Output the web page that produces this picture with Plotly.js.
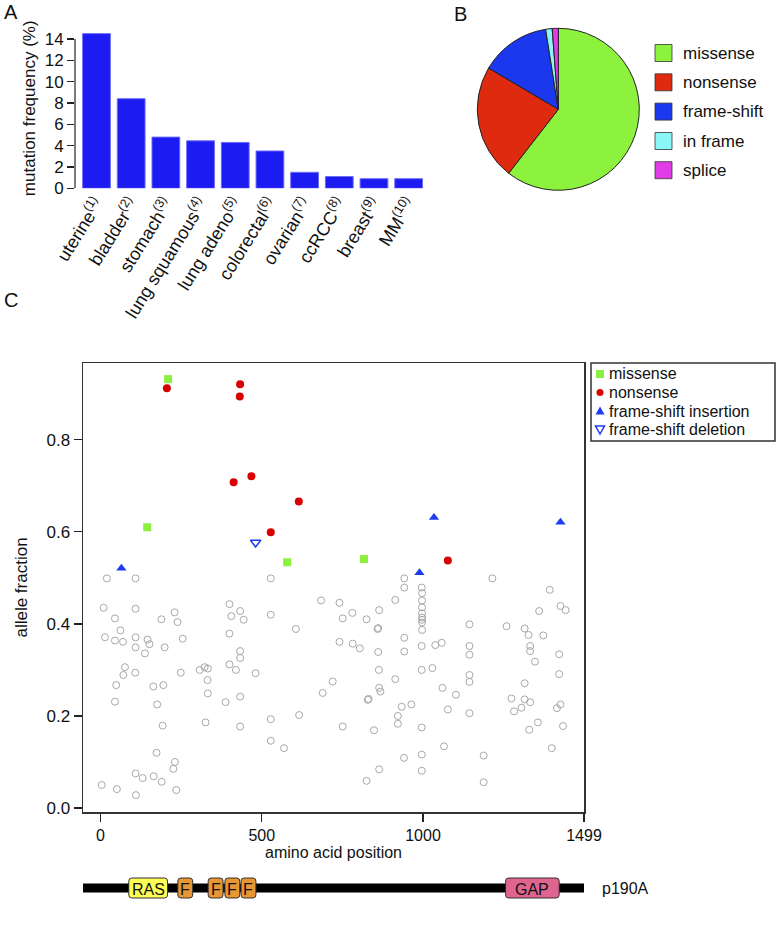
<!DOCTYPE html>
<html>
<head>
<meta charset="utf-8">
<script src="https://cdn.plot.ly/plotly-3.0.1.min.js"></script>
<style>html,body{margin:0;padding:0;background:#fff;}#chart{width:777px;height:928px;}</style>
</head>
<body>
<div id="chart"></div>
<script>
// ---------- Panel A data ----------
const cancerTypes = ['uterine','bladder','stomach','lung squamous','lung adeno','colorectal','ovarian','ccRCC','breast','MM'];
const cancerRanks = ['(1)','(2)','(3)','(4)','(5)','(6)','(7)','(8)','(9)','(10)'];
const mutFreq = [14.5, 8.4, 4.8, 4.45, 4.3, 3.5, 1.5, 1.1, 0.9, 0.9];
const freqTicks = [0, 2, 4, 6, 8, 10, 12, 14];

// ---------- Panel B data ----------
const mutClasses = ['missense','nonsense','frame-shift','in frame','splice'];
const mutClassShare = [60.5, 23.0, 14.0, 1.3, 1.2];

// ---------- Panel C data ----------
const missenseAA = [210, 145, 579, 817];
const missenseAF = [0.932, 0.610, 0.534, 0.541];
const nonsenseAA = [206, 433, 432, 413, 468, 615, 528, 1077];
const nonsenseAF = [0.912, 0.921, 0.894, 0.708, 0.721, 0.666, 0.599, 0.538];
const fsInsAA = [65, 989, 1034, 1426];
const fsInsAF = [0.521, 0.511, 0.631, 0.621];
const fsDelAA = [481];
const fsDelAF = [0.577];
const otherAA = [20,109,10,109,45,62,14,45,70,109,109,146,152,138,189,230,239,199,255,76,71,108,49,45,164,195,176,193,249,308,323,333,332,333,326,174,231,226,109,131,165,190,235,110,4,51,400,433,406,444,400,433,433,400,420,481,388,433,433,528,528,606,616,528,528,569,
  684,741,781,751,825,864,861,859,741,782,804,861,720,689,863,914,864,868,829,831,751,848,934,964,922,922,914,942,942,942,942,996,996,996,996,996,941,864,825,
  996,997,997,997,997,997,997,997,997,
  1029,1038,1058,1060,1102,1077,1065,1144,1144,1144,1144,1144,1144,1188,1188,1215,1259,1274,1282,1305,1315,1332,1315,1315,1327,1332,1332,1347,1360,1373,1393,1426,1442,1422,1422,1415,1426,1434,1356,1329,1399];
const otherAF = [0.499,0.499,0.435,0.433,0.412,0.386,0.371,0.364,0.361,0.371,0.349,0.366,0.356,0.336,0.410,0.425,0.404,0.349,0.368,0.306,0.289,0.294,0.267,0.231,0.264,0.267,0.225,0.179,0.294,0.300,0.306,0.303,0.278,0.249,0.186,0.120,0.100,0.085,0.075,0.065,0.069,0.057,0.039,0.028,0.050,0.041,0.443,0.428,0.417,0.409,0.379,0.341,0.326,0.312,0.300,0.293,0.230,0.242,0.177,0.499,0.420,0.389,0.202,0.193,0.146,0.130,
  0.451,0.446,0.424,0.412,0.410,0.430,0.391,0.389,0.361,0.357,0.347,0.339,0.275,0.250,0.300,0.280,0.261,0.253,0.235,0.237,0.177,0.169,0.220,0.225,0.200,0.183,0.452,0.499,0.479,0.370,0.340,0.352,0.300,0.175,0.116,0.081,0.109,0.084,0.059,
  0.479,0.467,0.451,0.436,0.423,0.414,0.409,0.403,0.387,
  0.304,0.354,0.359,0.261,0.246,0.214,0.134,0.399,0.352,0.333,0.289,0.274,0.206,0.114,0.056,0.499,0.395,0.238,0.210,0.218,0.236,0.230,0.271,0.390,0.376,0.352,0.341,0.318,0.428,0.375,0.474,0.439,0.430,0.334,0.291,0.217,0.225,0.178,0.186,0.170,0.130];
const aaTicks = [0, 500, 1000, 1499];
const afTicks = [0, 0.2, 0.4, 0.6, 0.8];
const legendC = ['missense','nonsense','frame-shift insertion','frame-shift deletion'];

// protein domains (p190A)
const domainNames = ['RAS','F','F','F','F','GAP'];
const domainStart = [88, 240, 334, 386, 436, 1256];
const domainEnd   = [208, 286, 380, 432, 482, 1422];
const proteinName = 'p190A';

// ---------- styles ----------
const FONT = 'Liberation Sans, Arial, Helvetica, sans-serif';
const pieColors = ['#8CF23E','#DE2A0E','#1C38EE','#8AF6F6','#E23CE6'];
const domainColors = {RAS:'#FFFF55', F:'#E89632', GAP:'#E06490'};
const W = 777, H = 928;
const px = x => x / W;
const py = y => 1 - y / H;

const traces = [];
// Panel A bars
traces.push({
  type: 'bar', x: cancerTypes, y: mutFreq, xaxis: 'x', yaxis: 'y',
  marker: {color: '#1B1BF2', line: {color: '#6A6AF8', width: 1}},
  showlegend: false, hoverinfo: 'x+y'
});
// Panel B pie
traces.push({
  type: 'pie', labels: mutClasses, values: mutClassShare, sort: false,
  direction: 'clockwise', rotation: 0, textinfo: 'none', showlegend: false,
  marker: {colors: pieColors, line: {color: '#222', width: 1}},
  domain: {x: [px(558.3 - 81), px(558.3 + 81)], y: [py(190.3), py(28.3)]}
});
// Panel C scatter
traces.push({
  type: 'scatter', mode: 'markers', x: otherAA, y: otherAF, xaxis: 'x2', yaxis: 'y2',
  marker: {symbol: 'circle-open', size: 7, color: '#A8A8A8', line: {width: 1}}, showlegend: false
});
traces.push({
  type: 'scatter', mode: 'markers', x: missenseAA, y: missenseAF, xaxis: 'x2', yaxis: 'y2', name: legendC[0],
  marker: {symbol: 'square', size: 8, color: '#8CF03E'}, showlegend: false
});
traces.push({
  type: 'scatter', mode: 'markers', x: nonsenseAA, y: nonsenseAF, xaxis: 'x2', yaxis: 'y2', name: legendC[1],
  marker: {symbol: 'circle', size: 8, color: '#D80000'}, showlegend: false
});
traces.push({
  type: 'scatter', mode: 'markers', x: fsInsAA, y: fsInsAF, xaxis: 'x2', yaxis: 'y2', name: legendC[2],
  marker: {symbol: 'triangle-up', size: 9, color: '#1E3CF0'}, showlegend: false
});
traces.push({
  type: 'scatter', mode: 'markers', x: fsDelAA, y: fsDelAF, xaxis: 'x2', yaxis: 'y2', name: legendC[3],
  marker: {symbol: 'triangle-down-open', size: 9, color: '#1E3CF0', line: {width: 1.5}}, showlegend: false
});

const shapes = [];
const annotations = [];
// Panel A y-axis line (R style, spans tick range)
shapes.push({type: 'line', xref: 'x domain', yref: 'y', x0: 0, x1: 0, y0: 0, y1: freqTicks[freqTicks.length - 1],
  line: {color: '#222', width: 1.2}});

// Panel B manual legend
const pieLegY = [53, 82.3, 111.6, 141, 170.2];
mutClasses.forEach((lab, i) => {
  shapes.push({type: 'rect', xref: 'paper', yref: 'paper', x0: px(655), x1: px(672), y0: py(pieLegY[i] + 8.5), y1: py(pieLegY[i] - 8.5),
    fillcolor: pieColors[i], line: {color: '#333', width: 0.8}});
  annotations.push({xref: 'paper', yref: 'paper', x: px(681), y: py(pieLegY[i]), xanchor: 'left', yanchor: 'middle',
    text: lab, showarrow: false, font: {family: FONT, size: 17, color: '#111'}});
});

// Panel C legend box
shapes.push({type: 'rect', xref: 'paper', yref: 'paper', x0: px(591), x1: px(775), y0: py(441), y1: py(363),
  line: {color: '#333', width: 1.5}, fillcolor: 'rgba(0,0,0,0)'});
const legRowY = [374, 392.5, 411, 429.5];
const lx = 600;
shapes.push({type: 'rect', xref: 'paper', yref: 'paper', x0: px(lx - 4), x1: px(lx + 4), y0: py(legRowY[0] + 4), y1: py(legRowY[0] - 4),
  fillcolor: '#8CF03E', line: {width: 0}});
shapes.push({type: 'circle', xref: 'paper', yref: 'paper', x0: px(lx - 3.5), x1: px(lx + 3.5), y0: py(legRowY[1] + 3.5), y1: py(legRowY[1] - 3.5),
  fillcolor: '#D80000', line: {width: 0}});
shapes.push({type: 'path', xref: 'paper', yref: 'paper',
  path: `M ${px(lx - 4.5)} ${py(legRowY[2] + 3.5)} L ${px(lx + 4.5)} ${py(legRowY[2] + 3.5)} L ${px(lx)} ${py(legRowY[2] - 4.5)} Z`,
  fillcolor: '#1E3CF0', line: {width: 0}});
shapes.push({type: 'path', xref: 'paper', yref: 'paper',
  path: `M ${px(lx - 4.5)} ${py(legRowY[3] - 3.5)} L ${px(lx + 4.5)} ${py(legRowY[3] - 3.5)} L ${px(lx)} ${py(legRowY[3] + 4.5)} Z`,
  fillcolor: 'rgba(0,0,0,0)', line: {color: '#1E3CF0', width: 1.5}});
legendC.forEach((lab, i) => {
  annotations.push({xref: 'paper', yref: 'paper', x: px(607), y: py(legRowY[i]), xanchor: 'left', yanchor: 'middle',
    text: lab, showarrow: false, font: {family: FONT, size: 16, color: '#111'}});
});

// Protein domain bar
const barY = 888;
shapes.push({type: 'line', xref: 'x2 domain', yref: 'paper', x0: 0, x1: 1, y0: py(barY), y1: py(barY),
  line: {color: '#000', width: 9}});
// rounded box path in (x2 data, paper) units
const rx = 3 / 0.3225, ry = 3 / H;
function roundBox(x0, x1, y0, y1) {
  return `M ${x0 + rx} ${y0} L ${x1 - rx} ${y0} Q ${x1} ${y0} ${x1} ${y0 + ry} L ${x1} ${y1 - ry} Q ${x1} ${y1} ${x1 - rx} ${y1} ` +
         `L ${x0 + rx} ${y1} Q ${x0} ${y1} ${x0} ${y1 - ry} L ${x0} ${y0 + ry} Q ${x0} ${y0} ${x0 + rx} ${y0} Z`;
}
domainNames.forEach((d, i) => {
  shapes.push({type: 'path', xref: 'x2', yref: 'paper',
    path: roundBox(domainStart[i], domainEnd[i], py(barY + 10), py(barY - 10)),
    fillcolor: domainColors[d], line: {color: '#333', width: 1}});
  annotations.push({xref: 'x2', yref: 'paper', x: (domainStart[i] + domainEnd[i]) / 2, y: py(barY + 1), xanchor: 'center', yanchor: 'middle',
    text: d, showarrow: false, font: {family: FONT, size: 16, color: '#111'}});
});
annotations.push({xref: 'paper', yref: 'paper', x: px(600), y: py(barY), xanchor: 'left', yanchor: 'middle',
  text: proteinName, showarrow: false, font: {family: FONT, size: 16, color: '#111'}});

// Panel letters
[['A', 2, 12], ['B', 452, 14], ['C', 2, 300]].forEach(([t, x, y]) => {
  annotations.push({xref: 'paper', yref: 'paper', x: px(x), y: py(y), xanchor: 'left', yanchor: 'middle',
    text: t, showarrow: false, font: {family: FONT, size: 20, color: '#111'}});
});

const layout = {
  width: W, height: H, autosize: false,
  margin: {l: 0, r: 0, t: 0, b: 0},
  paper_bgcolor: '#fff', plot_bgcolor: 'rgba(0,0,0,0)',
  font: {family: FONT, size: 16, color: '#111'},
  showlegend: false,
  xaxis: {
    domain: [px(75), px(426)], type: 'category', range: [-0.62, 9.5],
    tickvals: cancerTypes, ticktext: cancerTypes.map((c, i) => c + '<sup>' + cancerRanks[i] + '</sup>'),
    tickangle: -58, ticks: '', showline: false, showgrid: false, zeroline: false,
    tickfont: {family: FONT, size: 18, color: '#111'}, fixedrange: true
  },
  yaxis: {
    domain: [py(188.3), py(28.3)], range: [0, 15], tickvals: freqTicks,
    ticks: 'outside', ticklen: 7, tickcolor: '#222', tickwidth: 1.2, showline: false, showgrid: false, zeroline: false,
    tickfont: {family: FONT, size: 17, color: '#111'},
    title: {text: 'mutation frequency (%)', font: {family: FONT, size: 17, color: '#111'}, standoff: 4}
  },
  xaxis2: {
    domain: [px(83), px(584)], range: [-54, 1499], anchor: 'y2', tickvals: aaTicks,
    ticks: 'outside', ticklen: 8, tickcolor: '#222', tickwidth: 1.2,
    showline: true, mirror: true, linecolor: '#333', linewidth: 1.5, showgrid: false, zeroline: false,
    tickfont: {family: FONT, size: 16, color: '#111'},
    title: {text: 'amino acid position', font: {family: FONT, size: 16, color: '#111'}, standoff: 4}
  },
  yaxis2: {
    domain: [py(812), py(363)], range: [-0.0087, 0.967], anchor: 'x2', tickvals: afTicks, tickformat: '.1f',
    ticks: 'outside', ticklen: 8, tickcolor: '#222', tickwidth: 1.2,
    showline: true, mirror: true, linecolor: '#333', linewidth: 1.5, showgrid: false, zeroline: false,
    tickfont: {family: FONT, size: 17, color: '#111'},
    title: {text: 'allele fraction', font: {family: FONT, size: 17, color: '#111'}, standoff: 14}
  },
  shapes: shapes,
  annotations: annotations
};

Plotly.newPlot('chart', traces, layout, {staticPlot: true, displayModeBar: false});
</script>
</body>
</html>
